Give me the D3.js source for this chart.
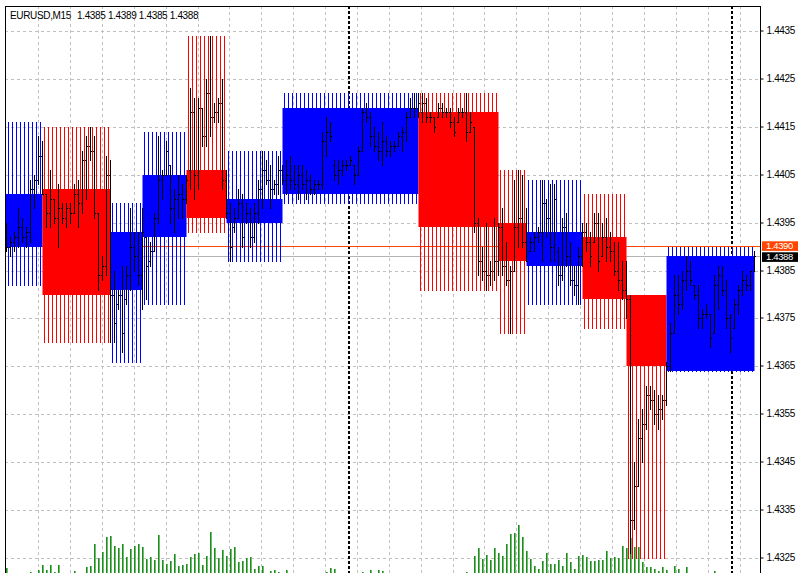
<!DOCTYPE html>
<html><head><meta charset="utf-8">
<script src="https://cdn.jsdelivr.net/npm/d3@7"></script>
<style>
body{margin:0;background:#fff}
svg{display:block}
text{font-family:"Liberation Sans",Arial,sans-serif;font-size:10px;letter-spacing:-0.35px}
</style>
</head><body>
<svg id="c" width="800" height="573"></svg>
<script>
// ---------------- DATA ----------------
const symbolLabel = "EURUSD,M15";
const lastOHLC = ["1.4385", "1.4389", "1.4385", "1.4388"];
const priceTicks = [1.4325, 1.4335, 1.4345, 1.4355, 1.4365, 1.4375, 1.4385, 1.4395, 1.4405, 1.4415, 1.4425, 1.4435];
const askPrice = 1.4390;
const bidPrice = 1.4388;
const separatorBars = [86, 182];

// M15 bars (index 0..187)
const barOpen = [
1.4392,1.4390,1.4391,1.4392,1.4394,1.4392,1.4393,1.4402,1.4404,1.4409,
1.4401,1.4397,1.4400,1.4396,1.4398,1.4396,1.4398,1.4397,1.4401,1.4399,
1.4408,1.4411,1.4410,1.4397,1.4384,1.4386,1.4405,1.4380,1.4378,1.4380,
1.4379,1.4384,1.4390,1.4388,1.4384,1.4392,1.4387,1.4389,1.4396,1.4404,
1.4405,1.4407,1.4398,1.4400,1.4401,1.4400,1.4406,1.4418,1.4405,1.4419,
1.4413,1.4422,1.4417,1.4418,1.4420,1.4404,1.4397,1.4394,1.4396,1.4399,
1.4396,1.4397,1.4392,1.4397,1.4402,1.4406,1.4404,1.4402,1.4403,1.4406,
1.4404,1.4405,1.4404,1.4403,1.4405,1.4403,1.4404,1.4402,1.4403,1.4403,
1.4412,1.4414,1.4407,1.4405,1.4406,1.4407,1.4407,1.4407,1.4405,1.4410,
1.4418,1.4417,1.4413,1.4411,1.4410,1.4412,1.4410,1.4411,1.4411,1.4413,
1.4414,1.4417,1.4419,1.4419,1.4418,1.4420,1.4417,1.4417,1.4417,1.4419,
1.4418,1.4418,1.4416,1.4416,1.4418,1.4418,1.4414,1.4415,1.4395,1.4387,
1.4385,1.4384,1.4385,1.4387,1.4394,1.4386,1.4383,1.4385,1.4394,1.4396,
1.4391,1.4389,1.4391,1.4392,1.4393,1.4399,1.4396,1.4390,1.4389,1.4384,
1.4394,1.4388,1.4383,1.4382,1.4388,1.4393,1.4391,1.4391,1.4395,1.4388,
1.4392,1.4390,1.4389,1.4385,1.4383,1.4381,1.4379,1.4333,1.4340,1.4350,
1.4353,1.4359,1.4358,1.4355,1.4356,1.4358,1.4365,1.4372,1.4380,1.4378,
1.4383,1.4385,1.4382,1.4380,1.4375,1.4376,1.4376,1.4372,1.4382,1.4384,
1.4381,1.4375,1.4373,1.4378,1.4381,1.4383,1.4382,1.4385];
const barHigh = [
1.4395,1.4392,1.4393,1.4398,1.4396,1.4394,1.4404,1.4405,1.4413,1.4412,
1.4401,1.4406,1.4400,1.4403,1.4399,1.4399,1.4399,1.4403,1.4404,1.4410,
1.4413,1.4415,1.4413,1.4397,1.4388,1.4409,1.4408,1.4385,1.4381,1.4386,
1.4386,1.4398,1.4393,1.4393,1.4398,1.4392,1.4391,1.4397,1.4413,1.4406,
1.4412,1.4407,1.4402,1.4405,1.4403,1.4405,1.4423,1.4421,1.4421,1.4419,
1.4425,1.4434,1.4420,1.4421,1.4425,1.4406,1.4399,1.4398,1.4402,1.4401,
1.4399,1.4398,1.4399,1.4404,1.4410,1.4408,1.4407,1.4404,1.4409,1.4407,
1.4408,1.4409,1.4407,1.4407,1.4407,1.4406,1.4405,1.4404,1.4404,1.4414,
1.4417,1.4416,1.4408,1.4408,1.4408,1.4408,1.4409,1.4407,1.4411,1.4419,
1.4420,1.4418,1.4415,1.4414,1.4416,1.4413,1.4412,1.4412,1.4414,1.4415,
1.4418,1.4421,1.4422,1.4422,1.4422,1.4421,1.4418,1.4417,1.4420,1.4420,
1.4419,1.4419,1.4417,1.4419,1.4419,1.4422,1.4418,1.4415,1.4396,1.4390,
1.4395,1.4387,1.4396,1.4395,1.4398,1.4391,1.4386,1.4404,1.4406,1.4405,
1.4398,1.4392,1.4393,1.4394,1.4404,1.4400,1.4403,1.4403,1.4390,1.4396,
1.4397,1.4391,1.4386,1.4390,1.4395,1.4395,1.4393,1.4397,1.4397,1.4395,
1.4396,1.4393,1.4391,1.4391,1.4387,1.4387,1.4380,1.4345,1.4354,1.4356,
1.4361,1.4361,1.4360,1.4359,1.4359,1.4366,1.4374,1.4384,1.4384,1.4385,
1.4388,1.4387,1.4382,1.4382,1.4377,1.4378,1.4376,1.4384,1.4386,1.4386,
1.4383,1.4376,1.4379,1.4382,1.4385,1.4384,1.4385,1.4389];
const barLow = [
1.4389,1.4388,1.4389,1.4390,1.4391,1.4390,1.4391,1.4398,1.4403,1.4401,
1.4394,1.4394,1.4395,1.4390,1.4395,1.4394,1.4395,1.4397,1.4394,1.4397,
1.4400,1.4408,1.4396,1.4381,1.4383,1.4384,1.4370,1.4370,1.4377,1.4368,
1.4378,1.4381,1.4385,1.4382,1.4377,1.4379,1.4386,1.4389,1.4395,1.4400,
1.4405,1.4395,1.4393,1.4396,1.4396,1.4399,1.4402,1.4400,1.4402,1.4411,
1.4411,1.4413,1.4416,1.4416,1.4402,1.4396,1.4387,1.4393,1.4396,1.4390,
1.4395,1.4390,1.4391,1.4395,1.4398,1.4403,1.4398,1.4401,1.4401,1.4403,
1.4401,1.4402,1.4402,1.4400,1.4402,1.4400,1.4401,1.4401,1.4402,1.4402,
1.4409,1.4412,1.4404,1.4403,1.4405,1.4406,1.4407,1.4403,1.4405,1.4410,
1.4416,1.4411,1.4410,1.4408,1.4407,1.4409,1.4409,1.4410,1.4411,1.4410,
1.4412,1.4417,1.4417,1.4417,1.4416,1.4416,1.4416,1.4414,1.4417,1.4417,
1.4417,1.4415,1.4413,1.4416,1.4417,1.4412,1.4414,1.4393,1.4384,1.4383,
1.4381,1.4382,1.4383,1.4384,1.4384,1.4382,1.4372,1.4385,1.4390,1.4390,
1.4387,1.4389,1.4389,1.4391,1.4387,1.4392,1.4387,1.4387,1.4382,1.4383,
1.4386,1.4382,1.4380,1.4378,1.4386,1.4389,1.4386,1.4391,1.4385,1.4388,
1.4387,1.4387,1.4384,1.4381,1.4379,1.4375,1.4326,1.4331,1.4340,1.4345,
1.4352,1.4356,1.4353,1.4352,1.4354,1.4357,1.4364,1.4372,1.4376,1.4377,
1.4381,1.4382,1.4379,1.4373,1.4373,1.4375,1.4369,1.4372,1.4377,1.4380,
1.4373,1.4368,1.4373,1.4376,1.4380,1.4381,1.4381,1.4385];
const barClose = [
1.4390,1.4391,1.4392,1.4394,1.4392,1.4393,1.4402,1.4404,1.4409,1.4401,
1.4397,1.4400,1.4396,1.4398,1.4396,1.4398,1.4397,1.4401,1.4399,1.4408,
1.4411,1.4410,1.4397,1.4384,1.4386,1.4405,1.4380,1.4374,1.4380,1.4372,
1.4384,1.4390,1.4388,1.4384,1.4393,1.4386,1.4389,1.4396,1.4404,1.4405,
1.4410,1.4398,1.4400,1.4401,1.4400,1.4404,1.4418,1.4405,1.4419,1.4413,
1.4422,1.4417,1.4418,1.4420,1.4404,1.4397,1.4390,1.4396,1.4399,1.4392,
1.4397,1.4392,1.4397,1.4402,1.4406,1.4404,1.4402,1.4403,1.4406,1.4404,
1.4405,1.4404,1.4403,1.4405,1.4403,1.4404,1.4402,1.4403,1.4403,1.4412,
1.4414,1.4413,1.4405,1.4406,1.4407,1.4407,1.4408,1.4405,1.4410,1.4418,
1.4417,1.4413,1.4411,1.4410,1.4412,1.4410,1.4411,1.4411,1.4413,1.4414,
1.4417,1.4419,1.4419,1.4420,1.4420,1.4417,1.4417,1.4415,1.4419,1.4418,
1.4418,1.4416,1.4414,1.4418,1.4418,1.4414,1.4416,1.4395,1.4387,1.4385,
1.4384,1.4385,1.4387,1.4394,1.4386,1.4383,1.4385,1.4394,1.4396,1.4391,
1.4387,1.4391,1.4392,1.4393,1.4399,1.4396,1.4390,1.4400,1.4384,1.4394,
1.4388,1.4383,1.4382,1.4388,1.4393,1.4391,1.4388,1.4395,1.4387,1.4392,
1.4390,1.4389,1.4385,1.4383,1.4381,1.4379,1.4333,1.4340,1.4350,1.4353,
1.4359,1.4358,1.4355,1.4356,1.4358,1.4365,1.4372,1.4380,1.4378,1.4383,
1.4385,1.4383,1.4380,1.4375,1.4376,1.4376,1.4371,1.4382,1.4384,1.4381,
1.4375,1.4371,1.4378,1.4381,1.4383,1.4382,1.4385,1.4388];

// tick volume per bar
const volume = [
10,0,0,0,0,0,2,0,6,16,
6,16,2,16,0,0,0,4,0,0,
12,14,58,30,42,72,74,54,50,58,
32,48,54,58,52,28,32,26,76,26,
18,24,38,14,16,18,32,38,40,16,
34,82,50,30,46,34,48,52,22,24,
30,32,8,14,14,0,4,6,2,0,
6,0,0,0,0,0,0,0,0,0,
2,10,8,0,0,0,0,0,0,2,
0,6,0,6,4,0,0,0,0,0,
0,0,0,0,0,0,0,0,0,0,
0,0,0,0,0,2,0,34,50,28,
36,26,50,40,34,58,78,80,96,72,
44,28,14,8,24,40,18,18,26,14,
40,22,8,34,36,32,24,24,26,26,
44,30,32,30,54,50,70,52,52,22,
12,12,8,4,12,6,0,14,8,0,
12,0,0,0,0,0,0,4,0,0,
0,0,0,0,0,0,0,0];

// higher-timeframe boxes
const boxStart = [0, 10, 27, 35, 46, 56, 70, 104, 124, 131, 145, 156, 166];
const boxEnd   = [9, 26, 34, 45, 55, 69, 103, 123, 130, 144, 155, 165, 187];
const boxOpen  = [1.4390,1.4402,1.4381,1.4392,1.4406,1.4395,1.4401,1.4418,1.4395,1.4386,1.4392,1.4380,1.4364];
const boxClose = [1.4401,1.4380,1.4393,1.4405,1.4396,1.4400,1.4419,1.4394,1.4387,1.4393,1.4379,1.4365,1.4388];
const boxHigh  = [1.4416,1.4415,1.4399,1.4414,1.4434,1.4410,1.4422,1.4422,1.4406,1.4404,1.4401,1.4380,1.4390];
const boxLow   = [1.4382,1.4370,1.4366,1.4378,1.4393,1.4387,1.4399,1.4381,1.4372,1.4378,1.4373,1.4325,1.4364];

// ---------------- DRAW ----------------
const W = 800, H = 573;
const plotL = 5, plotR = 760, plotT = 6, plotB = 573;
const nBars = barOpen.length;
// bar slots: 4 px per M15 bar
const x = d3.scaleLinear().domain([0, nBars - 1]).range([4, 4 + 4 * (nBars - 1)]);
// time axis used for the grid and the day separators
const xTime = d3.scaleLinear().domain([0, nBars - 1]).range([5.8, 5.8 + 3.985 * (nBars - 1)]);
const y = d3.scaleLinear().domain([1.4325, 1.4435]).range([558, 31]);
const yVol = d3.scaleLinear().domain([0, 100]).range([plotB, plotB - 50]);
const crisp = v => Math.round(v) + 0.5;
const col = i => Math.round(x(i));

const svg = d3.select("#c");
svg.append("rect").attr("width", W).attr("height", H).attr("fill", "#fff");
svg.append("defs").append("clipPath").attr("id", "clip")
  .append("rect").attr("x", plotL + 1).attr("y", plotT + 1)
  .attr("width", plotR - plotL - 1).attr("height", plotB - plotT);
const g = svg.append("g").attr("clip-path", "url(#clip)");

// grid
g.append("g").selectAll("line").data(priceTicks).join("line")
  .attr("x1", plotL).attr("x2", plotR)
  .attr("y1", d => crisp(y(d))).attr("y2", d => crisp(y(d)))
  .attr("stroke", "#c0c0c0").attr("stroke-dasharray", "3,3");
const gridBars = d3.range(8, nBars, 8);
g.append("g").selectAll("line").data(gridBars).join("line")
  .attr("x1", d => Math.floor(xTime(d)) + 1.5).attr("x2", d => Math.floor(xTime(d)) + 1.5)
  .attr("y1", plotT).attr("y2", plotB)
  .attr("stroke", "#c0c0c0").attr("stroke-dasharray", "3,3");

// period separators
g.append("g").selectAll("line").data(separatorBars).join("line")
  .attr("x1", d => Math.floor(xTime(d)) + 1).attr("x2", d => Math.floor(xTime(d)) + 1)
  .attr("y1", plotT).attr("y2", plotB)
  .attr("stroke", "#000").attr("stroke-width", 2).attr("stroke-dasharray", "3,2");

// bid / ask lines
g.append("line").attr("x1", plotL).attr("x2", plotR)
  .attr("y1", Math.floor(y(askPrice)) + 0.5).attr("y2", Math.floor(y(askPrice)) + 0.5).attr("stroke", "#ff4500");
g.append("line").attr("x1", plotL).attr("x2", plotR)
  .attr("y1", crisp(y(bidPrice))).attr("y2", crisp(y(bidPrice))).attr("stroke", "#b4b4b4");

// boxes: wicks then bodies
const boxes = boxStart.map((s, k) => ({
  s, e: boxEnd[k], o: boxOpen[k], c: boxClose[k], h: boxHigh[k], l: boxLow[k],
  color: boxClose[k] >= boxOpen[k] ? "#0000ff" : "#ff0000"
}));
const wickData = [];
boxes.forEach(b => { for (let i = b.s; i <= b.e; i++) wickData.push({i, b}); });
g.append("g").selectAll("line").data(wickData).join("line")
  .attr("x1", d => col(d.i) + 0.5).attr("x2", d => col(d.i) + 0.5)
  .attr("y1", d => Math.round(y(d.b.h))).attr("y2", d => Math.round(y(d.b.l)) + 1)
  .style("stroke", d => d.b.color).style("stroke-width", "1px");
g.append("g").selectAll("rect").data(boxes).join("rect")
  .attr("x", d => col(d.s) - 1.5).attr("width", d => col(d.e) - col(d.s) + 4)
  .attr("y", d => Math.round(y(Math.max(d.o, d.c))))
  .attr("height", d => Math.round(y(Math.min(d.o, d.c))) - Math.round(y(Math.max(d.o, d.c))))
  .style("fill", d => d.color);

// volumes
const volData = volume.map((v, i) => ({i, v})).filter(d => d.v > 0);
const vg = g.append("g");
vg.selectAll("rect.vd").data(volData).join("rect").attr("class", "vd")
  .attr("x", d => col(d.i) + 2).attr("width", 1)
  .attr("y", d => Math.round(yVol(d.v))).attr("height", d => plotB - Math.round(yVol(d.v)))
  .attr("fill", "#1f8c1f");
vg.selectAll("rect.vl").data(volData).join("rect").attr("class", "vl")
  .attr("x", d => col(d.i) + 3).attr("width", 1)
  .attr("y", d => Math.round(yVol(d.v))).attr("height", d => plotB - Math.round(yVol(d.v)))
  .attr("fill", "#6cbc6c");

// OHLC bars (drawn between the wick lines)
const bars = barOpen.map((o, i) => ({i, o, h: barHigh[i], l: barLow[i], c: barClose[i]}));
const bg = g.append("g").attr("stroke", "#000").attr("stroke-width", 1);
bg.selectAll("line.hl").data(bars).join("line").attr("class", "hl")
  .attr("x1", d => col(d.i) + 2.5).attr("x2", d => col(d.i) + 2.5)
  .attr("y1", d => Math.round(y(d.h))).attr("y2", d => Math.round(y(d.l)) + 1);
bg.selectAll("line.op").data(bars).join("line").attr("class", "op")
  .attr("x1", d => col(d.i) + 1).attr("x2", d => col(d.i) + 2)
  .attr("y1", d => crisp(y(d.o))).attr("y2", d => crisp(y(d.o)));
bg.selectAll("line.cl").data(bars).join("line").attr("class", "cl")
  .attr("x1", d => col(d.i) + 3).attr("x2", d => col(d.i) + 4)
  .attr("y1", d => crisp(y(d.c))).attr("y2", d => crisp(y(d.c)));

// frame
svg.append("line").attr("x1", plotL + 0.5).attr("x2", plotL + 0.5).attr("y1", plotT).attr("y2", plotB).attr("stroke", "#000");
svg.append("line").attr("x1", plotL).attr("x2", plotR + 1).attr("y1", plotT + 0.5).attr("y2", plotT + 0.5).attr("stroke", "#000");

// price axis
const axis = d3.axisRight(y).tickValues(priceTicks).tickSize(3).tickPadding(3)
  .tickFormat(d3.format(".4f"));
const ax = svg.append("g").attr("transform", `translate(${plotR + 0.5},0)`).call(axis);
ax.select(".domain").remove();
ax.selectAll("text").attr("font-family", null).attr("font-size", null).attr("fill", "#000");
ax.selectAll(".tick line").attr("stroke", "#000");
ax.selectAll(".tick").attr("transform", d => `translate(0,${crisp(y(d)) - 0.5})`);
svg.append("line").attr("x1", plotR + 0.5).attr("x2", plotR + 0.5).attr("y1", plotT).attr("y2", plotB).attr("stroke", "#000");

// bid / ask labels
[[askPrice, "#ff4500", -1], [bidPrice, "#000", 1]].forEach(([p, fill, shift]) => {
  const yy = crisp(y(p)) - 0.5 + shift;
  svg.append("rect").attr("x", plotR + 2).attr("y", yy - 4.7).attr("width", 36).attr("height", 9.6).attr("fill", fill);
  svg.append("text").attr("x", plotR + 6).attr("y", yy).attr("dy", "0.34em").attr("fill", "#fff")
    .style("font-size", "9.5px").text(d3.format(".4f")(p));
});

// title
svg.append("text").attr("x", 10).attr("y", 18.5).attr("fill", "#000").text(symbolLabel);
svg.append("text").attr("x", 77).attr("y", 18.5).attr("fill", "#000").attr("xml:space", "preserve").text(lastOHLC.join(" "));
</script>
</body></html>
